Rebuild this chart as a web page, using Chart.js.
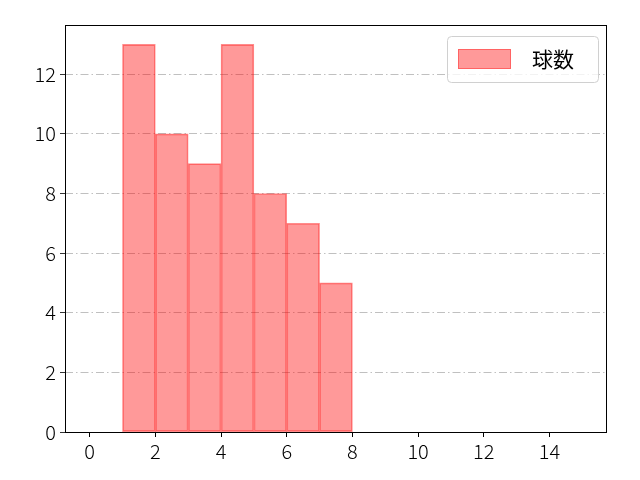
<!DOCTYPE html>
<html>
<head>
<meta charset="utf-8">
<script src="https://cdn.jsdelivr.net/npm/chart.js@4.4.0/dist/chart.umd.min.js"></script>
<style>
html, body { margin: 0; padding: 0; background: #fff; }
#wrap { width: 640px; height: 480px; }
</style>
</head>
<body>
<div id="wrap"><canvas id="c" width="640" height="480"></canvas></div>
<script>
// ---------------- DATA ----------------
const seriesName = "球数";
const binCenters = [1.5, 2.5, 3.5, 4.5, 5.5, 6.5, 7.5];
const counts = [13, 10, 9, 13, 8, 7, 5];
const xTicks = [0, 2, 4, 6, 8, 10, 12, 14];
const yTicks = [0, 2, 4, 6, 8, 10, 12];

const FONT = "'Noto Sans CJK JP', 'DejaVu Sans', sans-serif";

// frame + legend drawn inside the plot
const framePlugin = {
  id: "frame",
  afterDraw(chart) {
    const { ctx, chartArea: a } = chart;
    ctx.save();
    ctx.strokeStyle = "#000";
    ctx.lineWidth = 1;
    ctx.strokeRect(a.left + 0.5, a.top + 0.5, a.right - a.left - 1, a.bottom - a.top);

    // legend
    const bx = 447, by = 36, bw = 151, bh = 46;
    ctx.fillStyle = "rgba(255,255,255,0.8)";
    ctx.strokeStyle = "#d0d0d0";
    ctx.beginPath();
    ctx.roundRect(bx + 0.5, by + 0.5, bw, bh, 4);
    ctx.fill();
    ctx.stroke();
    ctx.fillStyle = "rgba(255,0,0,0.4)";
    ctx.fillRect(458, 49, 53, 20);
    ctx.strokeStyle = "rgba(255,0,0,0.35)";
    ctx.strokeRect(458.5, 49.5, 52, 19);
    ctx.fillStyle = "#000";
    ctx.font = "21px " + FONT;
    ctx.textBaseline = "middle";
    ctx.fillText(seriesName, 532, 59);
    ctx.restore();
  }
};

new Chart(document.getElementById("c"), {
  type: "bar",
  data: {
    datasets: [{
      label: seriesName,
      data: binCenters.map((x, i) => ({ x, y: counts[i] })),
      backgroundColor: "rgba(255,0,0,0.4)",
      borderColor: "rgba(255,0,0,0.45)",
      borderWidth: 1,
      borderSkipped: false,
      barPercentage: 1,
      categoryPercentage: 1
    }]
  },
  options: {
    responsive: false,
    animation: false,
    layout: { padding: { left: 0, right: 33, top: 25, bottom: 0 } },
    plugins: { legend: { display: false }, tooltip: { enabled: false } },
    scales: {
      x: {
        type: "linear",
        offset: false,
        min: -0.75,
        max: 15.75,
        afterBuildTicks: s => { s.ticks = xTicks.map(v => ({ value: v })); },
        afterFit: s => { s.height = 48; },
        grid: { offset: false, drawOnChartArea: false, drawTicks: true, tickLength: 5, tickColor: "#000" },
        border: { display: false },
        ticks: { color: "#000", font: { family: FONT, size: 20, weight: "300" }, padding: 2, maxRotation: 0 }
      },
      y: {
        min: 0,
        max: 13.65,
        afterBuildTicks: s => { s.ticks = yTicks.map(v => ({ value: v })); },
        afterFit: s => { s.width = 65; },
        grid: { color: "#b0b0b0", lineWidth: 0.8, tickLength: 5, tickColor: "#000" },
        border: { display: false, dash: [8, 3, 1.5, 3] },
        ticks: { color: "#000", font: { family: FONT, size: 20, weight: "300" }, padding: 4 }
      }
    }
  },
  plugins: [framePlugin]
});
</script>
</body>
</html>
